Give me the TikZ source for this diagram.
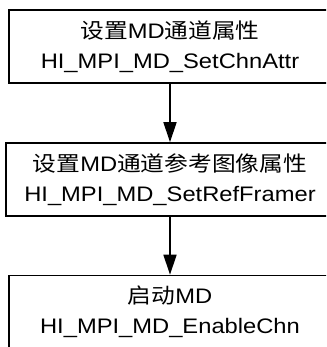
\documentclass[tikz,border=0pt]{standalone}
\usepackage{fontspec}
\setmainfont{Liberation Sans}
\newfontfamily\cjk{Noto Sans CJK SC}
\usetikzlibrary{arrows.meta}
\newcommand{\wline}[1]{\scalebox{1.13}[1]{#1}}
\tikzset{
  stepbox/.style={draw, line width=1.6pt, minimum height=73pt, inner sep=0pt,
    align=center, font=\fontsize{21}{29.5}\selectfont},
  flow/.style={line width=1.6pt, -{Triangle[length=20pt,width=13pt]}}
}
\begin{document}
\begin{tikzpicture}[x=1pt,y=-1pt]
\clip (0,0) rectangle (326,347);
\node[stepbox, minimum width=322pt] (s1) at (170,46.5)
  {\wline{{\cjk 设置}MD{\cjk 通道属性}}\\\wline{HI\_MPI\_MD\_SetChnAttr}};
\node[stepbox, minimum width=328pt] (s2) at (170,179.5)
  {\wline{{\cjk 设置}MD{\cjk 通道参考图像属性}}\\\wline{HI\_MPI\_MD\_SetRefFramer}};
\node[stepbox, minimum width=322pt] (s3) at (170,312)
  {\wline{{\cjk 启动}MD}\\\wline{HI\_MPI\_MD\_EnableChn}};
\draw[flow] (s1.south) -- (s2.north);
\draw[flow] (s2.south) -- (s3.north);
\end{tikzpicture}
\end{document}
